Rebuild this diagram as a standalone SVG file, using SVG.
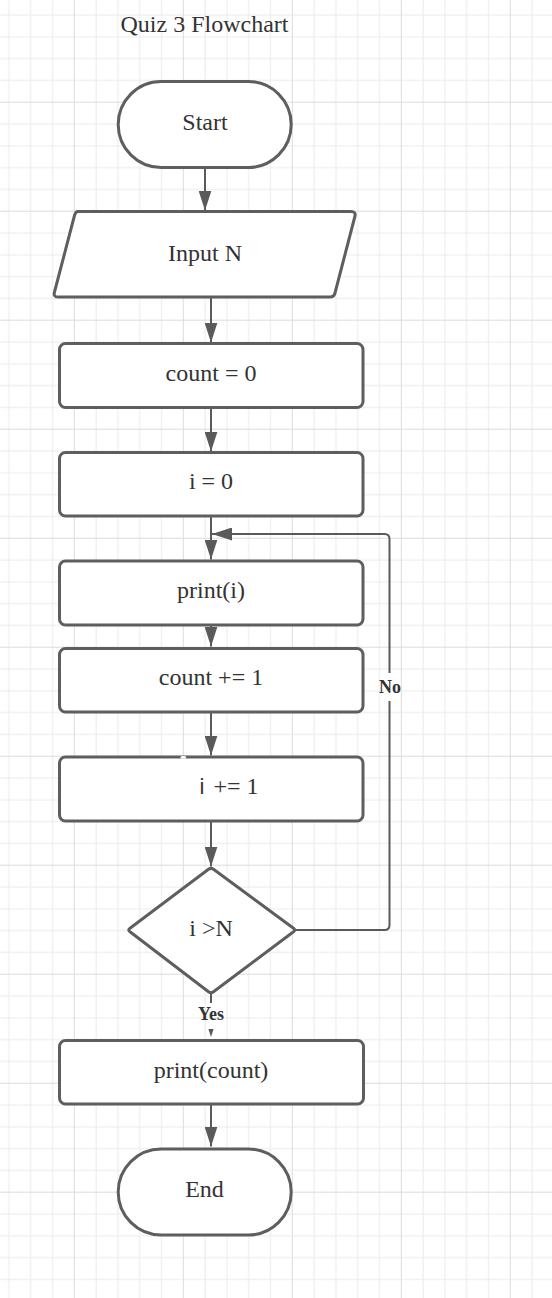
<svg xmlns="http://www.w3.org/2000/svg" width="552" height="1298" viewBox="0 0 552 1298">
  <defs>
    <!-- graph-paper background: minor lines every 21.8px, major every 5th -->
    <pattern id="grid" patternUnits="userSpaceOnUse" x="182.8" y="101.7" width="109" height="109">
      <rect x="0" y="0" width="109" height="109" fill="#ffffff"/>
      <g fill="#ebebeb">
        <rect x="21.8" y="0" width="1" height="109"/>
        <rect x="43.6" y="0" width="1" height="109"/>
        <rect x="65.4" y="0" width="1" height="109"/>
        <rect x="87.2" y="0" width="1" height="109"/>
        <rect x="0" y="21.8" width="109" height="1"/>
        <rect x="0" y="43.6" width="109" height="1"/>
        <rect x="0" y="65.4" width="109" height="1"/>
        <rect x="0" y="87.2" width="109" height="1"/>
      </g>
      <g fill="#dcdcdc">
        <rect x="0" y="0" width="1" height="109"/>
        <rect x="0" y="0" width="109" height="1"/>
      </g>
    </pattern>
    <marker id="arrow" markerUnits="userSpaceOnUse" markerWidth="20" markerHeight="13" refX="20" refY="6.5" orient="auto">
      <path d="M0,0 L20,6.5 L0,13 Z" fill="#5a5a5a"/>
    </marker>
  </defs>
  <style>
    .shape { fill: #ffffff; stroke: #5e5e5e; stroke-width: 3; stroke-linejoin: round; }
    .label { font-family: "Liberation Serif", "Times New Roman", serif; font-size: 24px; fill: #333333; text-anchor: middle; }
    .edge { fill: none; stroke: #5a5a5a; stroke-width: 2; }
    .edge-label { font-family: "Liberation Serif", "Times New Roman", serif; font-size: 18px; font-weight: bold; fill: #333333; text-anchor: middle; }
  </style>

  <rect x="0" y="0" width="552" height="1298" fill="url(#grid)"/>

  <text class="label" x="204.5" y="32">Quiz 3 Flowchart</text>

  <g id="connectors">
    <line class="edge" x1="205" y1="167" x2="205" y2="210.5" marker-end="url(#arrow)"/>
    <line class="edge" x1="211" y1="298" x2="211" y2="342.5" marker-end="url(#arrow)"/>
    <line class="edge" x1="211" y1="408" x2="211" y2="451.5" marker-end="url(#arrow)"/>
    <line class="edge" x1="211" y1="517" x2="211" y2="559.5" marker-end="url(#arrow)"/>
    <line class="edge" x1="211" y1="626" x2="211" y2="646.5" marker-end="url(#arrow)"/>
    <line class="edge" x1="211" y1="713" x2="211" y2="755.5" marker-end="url(#arrow)"/>
    <line class="edge" x1="211" y1="822" x2="211" y2="866.5" marker-end="url(#arrow)"/>
    <line class="edge" x1="211" y1="1105" x2="211" y2="1146.5" marker-end="url(#arrow)"/>
    <!-- "No" branch loops back above print(i) -->
    <path class="edge" d="M296,930 H384.5 Q389.5,930 389.5,925 V701"/>
    <path class="edge" d="M389.5,673 V539 Q389.5,534 384.5,534 H212" marker-end="url(#arrow)"/>
    <text class="edge-label" x="390" y="693">No</text>
    <!-- "Yes" branch -->
    <line class="edge" x1="211" y1="994" x2="211" y2="1003"/>
    <text class="edge-label" x="211" y="1020">Yes</text>
    <path d="M208.4,1029 L213.6,1029 L211,1037 Z" fill="#5a5a5a"/>
  </g>

  <g id="start">
    <rect class="shape" x="118.2" y="81.5" width="173" height="86" rx="43"/>
    <text class="label" x="205" y="130">Start</text>
  </g>

  <g id="input-n">
    <path class="shape" d="M78,211.5 H351 Q356,211.5 355,216 L335,293 Q334,297 330,297 H58 Q53,297 54.5,292 L74.5,215.5 Q75.5,211.5 78,211.5 Z"/>
    <text class="label" x="205" y="261">Input N</text>
  </g>

  <g id="count-init">
    <rect class="shape" x="59.5" y="343.5" width="303.5" height="64" rx="6"/>
    <text class="label" x="211" y="380.5">count = 0</text>
  </g>

  <g id="i-init">
    <rect class="shape" x="59.5" y="452.5" width="303.5" height="63.5" rx="6"/>
    <text class="label" x="211" y="489">i = 0</text>
  </g>

  <g id="print-i">
    <rect class="shape" x="59.5" y="561" width="303.5" height="64" rx="6"/>
    <text class="label" x="211" y="597.5">print(i)</text>
  </g>

  <g id="count-inc">
    <rect class="shape" x="59.5" y="648.5" width="303.5" height="63.5" rx="6"/>
    <text class="label" x="211" y="685">count += 1</text>
  </g>

  <g id="i-inc">
    <rect class="shape" x="59.5" y="757" width="303.5" height="64" rx="6"/>
    <ellipse cx="183.3" cy="757.4" rx="3" ry="1.3" fill="#ffffff"/>
    <text class="label" x="229" y="794"><tspan font-family="Liberation Sans, Arial, sans-serif" font-size="22">i</tspan><tspan dx="9">+= 1</tspan></text>
  </g>

  <g id="check">
    <path class="shape" d="M208.5,869.3 Q211,867.5 213.5,869.3 L293.5,928.2 Q296,930 293.5,931.8 L213.5,991.7 Q211,993.5 208.5,991.7 L130,931.8 Q127.5,930 130,928.2 Z"/>
    <text class="label" x="211" y="936">i &gt;N</text>
  </g>

  <g id="print-count">
    <rect class="shape" x="59.5" y="1040.5" width="304" height="63.5" rx="6"/>
    <text class="label" x="211" y="1078">print(count)</text>
  </g>

  <g id="end">
    <rect class="shape" x="118.2" y="1149" width="173" height="86" rx="43"/>
    <text class="label" x="204.5" y="1197">End</text>
  </g>
</svg>
